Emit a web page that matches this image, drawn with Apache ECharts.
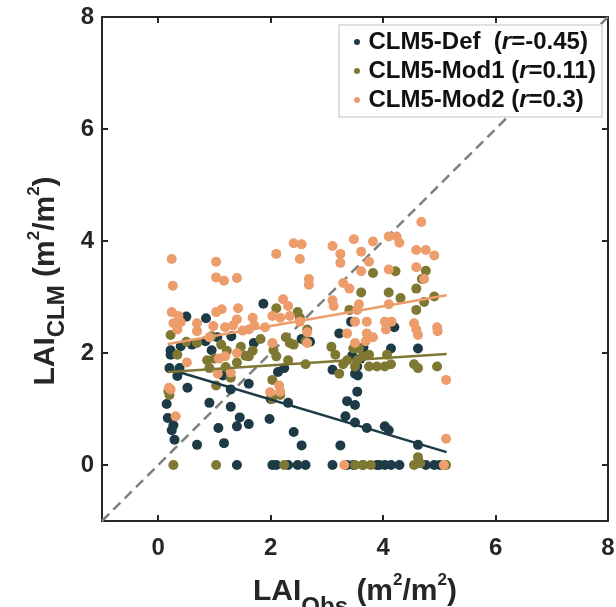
<!DOCTYPE html>
<html>
<head>
<meta charset="utf-8">
<script src="https://cdn.jsdelivr.net/npm/echarts@6/dist/echarts.min.js"></script>
<style>html,body{margin:0;padding:0;background:#fff;}#c{width:616px;height:607px;}</style>
</head>
<body>
<div id="c"></div>
<script>
var seriesNames = ['CLM5-Def', 'CLM5-Mod1', 'CLM5-Mod2'];
var rValues = ['-0.45', '0.11', '0.3'];
var tickValues = [0, 2, 4, 6, 8];

var defPoints = [[0.15,1.09],[0.17,0.84],[0.24,0.62],[0.29,0.45],[0.27,0.71],[0.22,1.97],[0.20,1.73],[0.38,1.73],[0.34,1.59],[0.22,2.05],[0.50,2.65],[0.52,1.38],[0.69,0.36],[0.85,2.62],[0.91,1.11],[1.07,0.66],[1.17,0.39],[1.40,0],[1.29,1.04],[1.40,0.69],[1.45,0.85],[1.61,0.73],[1.61,1.45],[1.29,1.35],[1.15,1.60],[0.84,2.21],[1.05,2.28],[1.87,2.88],[1.98,0.82],[2.03,0],[2.10,0],[2.31,0],[2.48,0],[2.62,0],[2.31,1.11],[2.41,0.59],[2.55,0.35],[2.24,1.73],[2.13,1.66],[2.55,2.25],[3.10,1.70],[3.10,0],[3.24,0.35],[3.33,0.87],[3.36,1.14],[3.50,1.07],[3.54,1.31],[3.50,0.76],[3.71,0.66],[3.50,1.63],[3.54,1.76],[3.43,2.56],[3.22,2.35],[4.03,0.69],[4.10,0.62],[4.20,2.46],[4.14,2.08],[4.62,2.08],[4.62,0.36],[3.36,0],[3.47,0],[3.64,0],[3.89,0],[3.93,0],[4.03,0],[4.14,0],[4.29,0],[4.76,0],[4.91,0],[5.01,0],[2.00,1.18],[1.70,2.18],[0.95,2.05],[3.60,1.90],[3.55,1.60],[0.40,2.12],[1.30,2.30],[2.70,2.20],[3.45,1.95],[3.65,2.10],[0.60,2.15]];

var mod1Points = [[0.22,2.32],[0.20,1.25],[0.18,1.32],[0.34,1.97],[0.27,0],[1.03,0],[2.24,0],[0.69,2.18],[0.87,1.87],[0.91,1.73],[1.03,1.42],[1.12,2.15],[1.22,2.04],[1.29,1.56],[1.47,2.11],[1.61,1.94],[1.68,2.04],[1.40,1.83],[1.82,2.25],[2.03,1.52],[2.03,1.18],[2.10,2.80],[2.17,1.25],[2.27,2.28],[2.34,2.18],[2.41,2.15],[2.48,2.73],[2.52,2.63],[2.62,2.21],[2.62,1.80],[2.65,2.42],[2.31,1.87],[2.10,1.94],[3.08,2.11],[3.15,1.97],[3.22,1.63],[3.36,1.87],[3.40,2.77],[3.47,2.08],[3.54,1.87],[3.61,3.08],[3.64,1.94],[3.75,1.76],[3.82,3.43],[3.89,1.76],[4.10,3.08],[4.22,3.46],[4.31,2.98],[4.07,1.97],[4.14,1.80],[4.03,1.76],[4.59,3.15],[4.59,2.77],[4.69,3.32],[4.76,3.47],[4.73,2.91],[4.91,3.01],[4.55,1.80],[4.62,1.73],[4.96,1.76],[4.62,0.14],[4.66,0.03],[4.55,0],[3.50,0],[3.64,0],[3.78,0],[5.12,0],[3.29,1.80],[3.50,1.76],[3.75,1.97],[3.57,2.08],[0.50,2.20],[1.00,1.90],[1.20,1.75],[1.55,1.95],[2.05,2.05],[0.95,2.30]];

var mod2Points = [[0.24,3.68],[0.26,3.20],[0.24,2.73],[0.27,2.53],[0.36,2.66],[0.34,2.42],[0.19,1.38],[0.22,1.35],[0.31,0.87],[1.03,3.63],[1.03,3.35],[1.17,3.29],[1.40,3.34],[1.03,2.73],[1.13,2.78],[1.42,2.80],[0.69,2.53],[0.69,2.39],[0.91,2.28],[0.98,2.48],[1.19,2.46],[1.33,2.49],[1.40,2.60],[0.51,1.83],[1.08,1.90],[1.19,1.94],[1.06,1.63],[1.29,1.65],[1.40,2.00],[1.68,2.63],[1.71,2.49],[1.61,2.42],[1.90,2.46],[2.10,3.77],[2.41,3.96],[2.55,3.94],[2.52,3.68],[2.68,3.32],[2.68,3.22],[2.22,2.96],[2.31,2.84],[2.03,2.66],[2.17,2.63],[2.34,2.66],[2.52,2.56],[2.65,2.37],[2.65,2.18],[2.03,2.18],[1.99,1.30],[2.15,1.42],[2.17,1.31],[3.10,3.91],[3.24,3.77],[3.24,3.61],[3.48,4.03],[3.61,3.81],[3.82,3.99],[3.75,3.63],[3.61,3.46],[3.10,2.94],[3.12,2.84],[3.29,3.25],[3.40,3.15],[3.54,2.77],[3.57,2.87],[3.50,2.56],[3.71,2.56],[3.71,2.35],[3.82,2.28],[3.36,2.35],[3.50,2.18],[3.69,2.21],[4.10,4.08],[4.24,4.08],[4.29,3.97],[4.10,3.49],[4.10,2.87],[4.03,2.56],[4.05,2.42],[4.15,2.56],[4.68,4.34],[4.59,3.84],[4.76,3.84],[4.91,3.74],[4.59,3.53],[4.73,3.32],[4.55,2.53],[4.59,2.42],[4.62,2.32],[4.96,2.46],[4.97,2.39],[5.12,1.52],[5.12,0.47],[3.31,0],[5.08,0],[0.40,2.55],[1.50,2.40]];

var defFit = [[0.17,1.72],[5.13,0.23]];
var mod1Fit = [[0.17,1.66],[5.13,1.98]];
var mod2Fit = [[0.17,2.16],[5.13,3.03]];
var oneToOne = [[-1,-1],[8,8]];

var colors = ['#1d3b46', '#7f7832', '#ec9d6b'];
var FONT = 'Liberation Sans, Arial, Helvetica, sans-serif';
var AX = '#262626';

function richTitle(base, sub) {
  return '{b|' + base + '}{s|' + sub + '}{b| (m}{p|2}{b|/m}{p|2}{b|)}';
}
function makeRich(lh) {
  return {
    b: {fontFamily: FONT, fontWeight: 'bold', fontSize: 30, color: AX, lineHeight: lh, verticalAlign: 'middle'},
    s: {fontFamily: FONT, fontWeight: 'bold', fontSize: 24, color: AX, lineHeight: 24, verticalAlign: 'bottom'},
    p: {fontFamily: FONT, fontWeight: 'bold', fontSize: 17, color: AX, lineHeight: 17, verticalAlign: 'top', padding: [lh / 2 - 20, 0, 0, 0]}
  };
}

function mainAxis(pos, name, gap, rot, pad, lh, labMargin) {
  return {
    type: 'value', position: pos, min: -1, max: 8,
    name: name, nameLocation: 'middle', nameGap: gap, nameRotate: rot,
    nameTextStyle: {rich: makeRich(lh), padding: pad},
    axisLine: {show: true, onZero: false, lineStyle: {color: AX, width: 2}},
    axisTick: {show: true, inside: true, length: 6, customValues: tickValues, lineStyle: {color: AX, width: 2}},
    axisLabel: {show: true, customValues: tickValues, fontFamily: FONT, fontWeight: 'bold', fontSize: 24, color: AX, margin: labMargin},
    splitLine: {show: false}
  };
}
function mirrorAxis(pos) {
  return {
    type: 'value', position: pos, min: -1, max: 8,
    axisLine: {show: true, onZero: false, lineStyle: {color: AX, width: 2}},
    axisTick: {show: true, inside: true, length: 6, customValues: tickValues, lineStyle: {color: AX, width: 2}},
    axisLabel: {show: false},
    splitLine: {show: false}
  };
}

var chart = echarts.init(document.getElementById('c'), null, {renderer: 'canvas'});
var scatterSets = [defPoints, mod1Points, mod2Points];
var fitSets = [defFit, mod1Fit, mod2Fit];
var series = [{
  type: 'line', data: oneToOne, xAxisIndex: 0, yAxisIndex: 0, symbol: 'none', silent: true,
  lineStyle: {color: '#7f7f7f', width: 2.5, type: [10, 6]}, z: 1
}];
scatterSets.forEach(function (pts, i) {
  series.push({
    name: seriesNames[i], type: 'scatter', data: pts, xAxisIndex: 0, yAxisIndex: 0,
    symbol: 'circle', symbolSize: 10, itemStyle: {color: colors[i], opacity: 1}, z: 2 + i
  });
});
fitSets.forEach(function (pts, i) {
  series.push({
    type: 'line', data: pts, xAxisIndex: 0, yAxisIndex: 0, symbol: 'none', silent: true,
    lineStyle: {color: colors[i], width: 2.5}, z: 6
  });
});

chart.setOption({
  animation: false,
  backgroundColor: '#fff',
  color: colors,
  grid: {left: 102, right: 8, top: 17, bottom: 86, containLabel: false, outerBoundsMode: 'none'},
  xAxis: [mainAxis('bottom', richTitle('LAI', 'Obs'), 32, 0, 0, 54, 15), mirrorAxis('top')],
  yAxis: [mainAxis('left', richTitle('LAI', 'CLM'), 30, 90, [0, 24, 0, 0], 48, 8), mirrorAxis('right')],
  legend: {
    data: seriesNames.map(function (n) { return {name: n, icon: 'circle'}; }),
    orient: 'vertical', left: 339, top: 25,
    padding: [4, 6, 4, 15], itemGap: 3, itemWidth: 13, itemHeight: 6,
    backgroundColor: '#fff', borderColor: '#d6d6d6', borderWidth: 1.5, borderRadius: 0,
    formatter: function (name) {
      var i = seriesNames.indexOf(name);
      var sp = i === 0 ? '  (' : ' (';
      return '{n|' + name + sp + '}{i|r}{n|=' + rValues[i] + ')}';
    },
    textStyle: {
      fontFamily: FONT, fontWeight: 'bold', fontSize: 24, color: '#111', lineHeight: 26,
      rich: {
        n: {fontFamily: FONT, fontWeight: 'bold', fontSize: 24, color: '#111', lineHeight: 26},
        i: {fontFamily: FONT, fontWeight: 'bold', fontStyle: 'italic', fontSize: 24, color: '#111', lineHeight: 26}
      }
    },
    z: 10
  },
  series: series
});
</script>
</body>
</html>
